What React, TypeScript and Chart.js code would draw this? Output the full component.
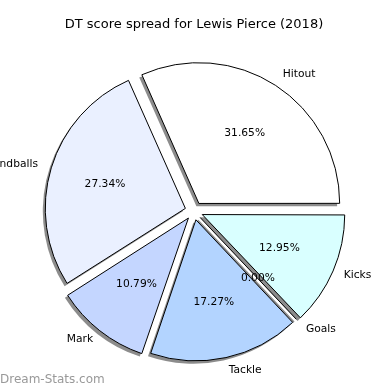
import React, { useEffect, useRef } from "react";
import { Chart, registerables } from "chart.js";

Chart.register(...registerables);

// ---- data (matplotlib order: counter-clockwise from east) ----
const CATEGORIES = ["Hitout", "Handballs", "Mark", "Tackle", "Goals", "Kicks"];
const SCORES = [44, 38, 15, 24, 0, 18];
const COLORS = ["#ffffff", "#eaf0ff", "#c4d6ff", "#b3d4ff", "#c8e0ff", "#d9ffff"];
const TITLE = "DT score spread for Lewis Pierce (2018)";
const WATERMARK = "Dream-Stats.com";

const EXPLODE = 9; // px slice pull-out
const SHX = -2.5;
const SHY = 2.8;
const FONT = '"DejaVu Sans", "Liberation Sans", sans-serif';

const decorPlugin = {
  id: "pieDecor",
  beforeDatasetsDraw(chart: any) {
    const ctx = chart.ctx as CanvasRenderingContext2D;
    const meta = chart.getDatasetMeta(0);
    ctx.save();
    ctx.fillStyle = "rgba(0,0,0,0.45)";
    ctx.strokeStyle = "rgba(0,0,0,0.45)";
    meta.data.forEach((arc: any) => {
      const p = arc.getProps(["x", "y", "startAngle", "endAngle", "outerRadius", "circumference"], true);
      const mid = (p.startAngle + p.endAngle) / 2;
      const cx = p.x + Math.cos(mid) * EXPLODE + SHX;
      const cy = p.y + Math.sin(mid) * EXPLODE + SHY;
      const circ = p.endAngle - p.startAngle;
      if (circ <= 0) {
        ctx.lineWidth = 2;
        ctx.beginPath();
        ctx.moveTo(cx, cy);
        ctx.lineTo(cx + Math.cos(mid) * p.outerRadius, cy + Math.sin(mid) * p.outerRadius);
        ctx.stroke();
        return;
      }
      const fix = 1 - Math.sin(Math.min(Math.PI, circ));
      const r = p.outerRadius + EXPLODE * fix;
      ctx.beginPath();
      ctx.moveTo(cx, cy);
      ctx.arc(cx, cy, r, p.startAngle, p.endAngle);
      ctx.closePath();
      ctx.fill();
    });
    ctx.restore();
  },
  afterDatasetsDraw(chart: any) {
    const ctx = chart.ctx as CanvasRenderingContext2D;
    const meta = chart.getDatasetMeta(0);
    const data: number[] = chart.data.datasets[0].data;
    const labels: string[] = chart.data.labels;
    const total = data.reduce((a, b) => a + b, 0);
    ctx.save();
    meta.data.forEach((arc: any, i: number) => {
      const p = arc.getProps(["x", "y", "startAngle", "endAngle", "outerRadius"], true);
      const mid = (p.startAngle + p.endAngle) / 2;
      const ux = Math.cos(mid);
      const uy = Math.sin(mid);
      const cx = p.x + ux * EXPLODE;
      const cy = p.y + uy * EXPLODE;
      const r = p.outerRadius;
      if (p.endAngle - p.startAngle <= 0) {
        ctx.strokeStyle = "#000";
        ctx.lineWidth = 1;
        ctx.beginPath();
        ctx.moveTo(cx, cy);
        ctx.lineTo(cx + ux * r, cy + uy * r);
        ctx.stroke();
      }
      ctx.fillStyle = "#000";
      ctx.font = `10.7px ${FONT}`;
      ctx.textBaseline = "middle";
      // category label
      const lx = cx + ux * r * 1.1;
      const ly = cy + uy * r * 1.1;
      ctx.textAlign = lx > p.x ? "left" : "right";
      ctx.fillText(labels[i], lx, ly);
      // percentage label
      const px = cx + ux * r * 0.6;
      const py = cy + uy * r * 0.6;
      ctx.textAlign = "center";
      ctx.fillText(((data[i] / total) * 100).toFixed(2) + "%", px, py);
    });
    ctx.restore();
  },
  afterDraw(chart: any) {
    const ctx = chart.ctx as CanvasRenderingContext2D;
    ctx.save();
    ctx.font = `12px ${FONT}`;
    ctx.fillStyle = "#999999";
    ctx.textAlign = "left";
    ctx.textBaseline = "middle";
    ctx.fillText(WATERMARK, 0, 380);
    ctx.restore();
  },
};

export default function App() {
  const ref = useRef<HTMLCanvasElement | null>(null);
  useEffect(() => {
    if (!ref.current) return;
    // Chart.js draws clockwise; reverse to mimic matplotlib's counter-clockwise order
    const labels = [...CATEGORIES].reverse();
    const values = [...SCORES].reverse();
    const colors = [...COLORS].reverse();
    const chart = new Chart(ref.current, {
      type: "pie",
      data: {
        labels,
        datasets: [
          {
            data: values,
            backgroundColor: colors,
            borderColor: "#000000",
            borderWidth: 1,
            borderJoinStyle: "miter",
            offset: EXPLODE * 4,
            hoverOffset: 0,
          } as any,
        ],
      },
      options: {
        animation: false,
        responsive: true,
        maintainAspectRatio: false,
        devicePixelRatio: 1,
        rotation: 90,
        radius: 140,
        layout: { padding: { left: 0, right: 2, top: 0, bottom: 0 } },
        events: [],
        plugins: {
          legend: { display: false },
          tooltip: { enabled: false },
          title: {
            display: true,
            text: TITLE,
            color: "#000000",
            font: { family: FONT, size: 13, weight: "normal", lineHeight: 1 },
            padding: { top: 18.5, bottom: 0.5 },
          },
        },
      } as any,
      plugins: [decorPlugin],
    });
    return () => chart.destroy();
  }, []);
  return (
    <div style={{ position: "fixed", left: 0, top: 0, width: 390, height: 390, background: "#fff" }}>
      <canvas ref={ref} />
    </div>
  );
}
